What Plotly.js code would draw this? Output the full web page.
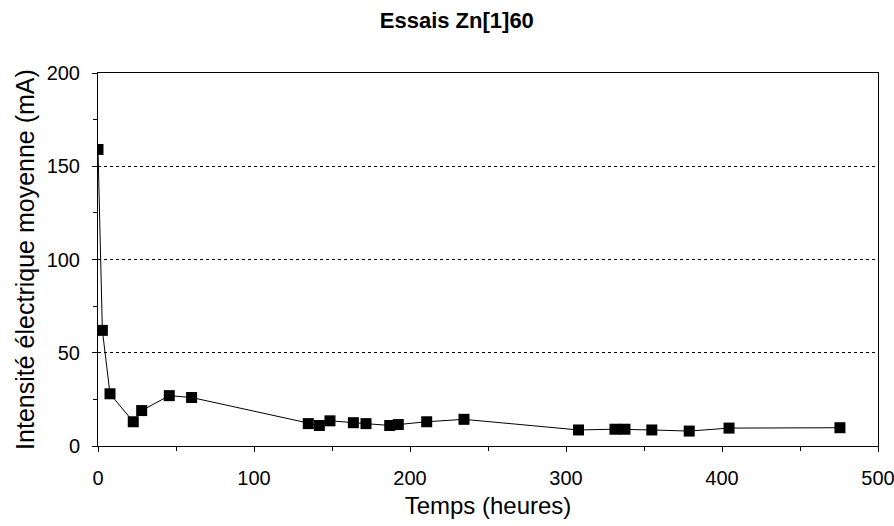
<!DOCTYPE html>
<html>
<head>
<meta charset="utf-8">
<script src="https://cdn.plot.ly/plotly-3.0.1.min.js"></script>
<style>
html,body{margin:0;padding:0;background:#fff;}
#chart{width:894px;height:526px;}
</style>
</head>
<body>
<div id="chart"></div>
<script>
// Temps (heures)
const temps = [0, 2.8, 7.7, 22.6, 28, 45.7, 60, 134.8, 141.9, 148.7, 163.7, 171.8, 187, 192.5, 210.7, 234.6, 308, 331.4, 337.8, 355, 379, 404.5, 475.6];
// Intensité électrique moyenne (mA)
const intensite = [159, 62, 28, 13, 19, 27, 26, 12, 11, 13.5, 12.5, 12, 11, 11.5, 13, 14.3, 8.6, 9, 9, 8.6, 8, 9.6, 9.8];

const xTicks = [0, 100, 200, 300, 400, 500];
const xMinorTicks = [50, 150, 250, 350, 450];
const yTicks = [0, 50, 100, 150, 200];
const yMinorTicks = [25, 75, 125, 175];

const chartTitle = 'Essais Zn[1]60';
const xTitle = 'Temps (heures)';
const yTitle = 'Intensité électrique moyenne (mA)';

const font = 'Liberation Sans, Arial, sans-serif';

const trace = {
  x: temps,
  y: intensite,
  type: 'scatter',
  mode: 'lines+markers',
  line: {color: '#000', width: 1},
  marker: {symbol: 'square', size: 11, color: '#000'},
  hoverinfo: 'skip'
};

// same data on the overlaid label axis, drawn with no marks (carries the tick labels)
const labelTrace = {
  x: temps,
  y: intensite,
  xaxis: 'x2',
  type: 'scatter',
  mode: 'none',
  hoverinfo: 'skip',
  showlegend: false
};

const layout = {
  width: 894,
  height: 526,
  margin: {l: 98, r: 16, t: 73, b: 80},
  paper_bgcolor: '#fff',
  plot_bgcolor: '#fff',
  showlegend: false,
  title: {
    text: '<b>' + chartTitle + '</b>',
    font: {family: font, size: 22, color: '#000'},
    x: 0.511, xanchor: 'center',
    y: 0.962, yanchor: 'middle'
  },
  xaxis: {
    range: [0, 500],
    tickvals: xTicks,
    ticks: 'outside', ticklen: 5, tickwidth: 1, tickcolor: '#000',
    showticklabels: false,
    minor: {tickvals: xMinorTicks, ticks: 'outside', ticklen: 4, tickcolor: '#000', showgrid: false},
    showgrid: false, zeroline: false,
    showline: true, linecolor: '#000', linewidth: 1, mirror: true,
    automargin: false,
    title: {text: xTitle, font: {family: font, size: 24, color: '#000'}, standoff: 46}
  },
  xaxis2: {
    overlaying: 'x',
    anchor: 'y',
    side: 'bottom',
    range: [0, 500],
    tickvals: xTicks,
    ticks: 'outside', ticklen: 14, tickcolor: 'rgba(0,0,0,0)',
    ticklabeloverflow: 'allow',
    showgrid: false, zeroline: false, showline: false,
    tickfont: {family: font, size: 20, color: '#000'},
    automargin: false
  },
  yaxis: {
    range: [0, 200],
    tickvals: yTicks,
    ticks: 'outside', ticklen: 5, tickwidth: 1, tickcolor: '#000',
    ticklabelstandoff: 8,
    ticklabeloverflow: 'allow',
    minor: {tickvals: yMinorTicks, ticks: 'outside', ticklen: 4, tickcolor: '#000', showgrid: false},
    showgrid: true, gridcolor: '#000', gridwidth: 1, griddash: 'dot',
    zeroline: false,
    showline: true, linecolor: '#000', linewidth: 1, mirror: true,
    tickfont: {family: font, size: 20, color: '#000'},
    automargin: false,
    title: {text: yTitle, font: {family: font, size: 25, color: '#000'}, standoff: 4}
  }
};

Plotly.newPlot('chart', [labelTrace, trace], layout, {displayModeBar: false, staticPlot: true});
</script>
</body>
</html>
